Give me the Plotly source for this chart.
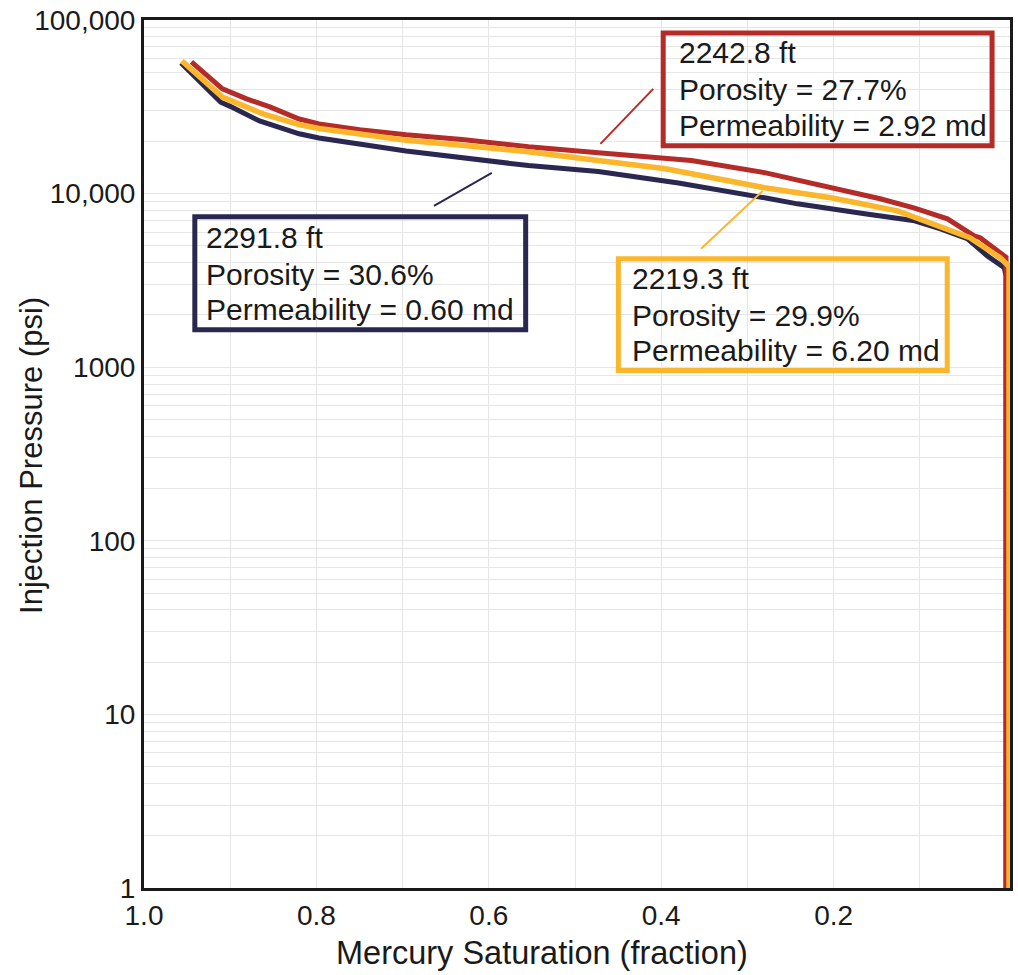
import plotly.graph_objects as go

# ---------------- data ----------------
sat_2291 = [0.957, 0.911, 0.900, 0.866, 0.820, 0.797, 0.696, 0.631, 0.554, 0.473, 0.380, 0.280,
            0.242, 0.164, 0.106, 0.076, 0.045, 0.022, 0.002, 0.0, 0.0]
p_2291 = [56600, 33600, 31800, 26200, 22100, 20900, 17600, 16100, 14500, 13400, 11500, 9460,
          8730, 7650, 6970, 6270, 5500, 4390, 3740, 3350, 1]

sat_2242 = [0.945, 0.909, 0.881, 0.854, 0.820, 0.797, 0.750, 0.696, 0.631, 0.554, 0.473, 0.365,
            0.280, 0.203, 0.146, 0.107, 0.068, 0.037, 0.030, 0.0, 0.0]
p_2242 = [57300, 40100, 35100, 31600, 26900, 25200, 23300, 21800, 20500, 18600, 17200, 15500,
          13200, 10800, 9340, 8280, 7160, 5710, 5570, 4300, 1]

sat_2219 = [0.956, 0.909, 0.862, 0.820, 0.797, 0.696, 0.631, 0.554, 0.473, 0.395, 0.280, 0.203,
            0.126, 0.088, 0.042, 0.007, -0.0035, -0.0035]
p_2219 = [58100, 36000, 28800, 25000, 23700, 20300, 19000, 17400, 15500, 13900, 10800, 9460,
          7960, 6790, 5570, 4280, 3800, 1]

depths = ["2242.8 ft", "2291.8 ft", "2219.3 ft"]
porosity = ["27.7%", "30.6%", "29.9%"]
permeability = ["2.92 md", "0.60 md", "6.20 md"]

x_tickvals = [1.0, 0.9, 0.8, 0.7, 0.6, 0.5, 0.4, 0.3, 0.2, 0.1]
x_ticktext = ["1.0", "", "0.8", "", "0.6", "", "0.4", "", "0.2", ""]
y_tickvals = [m * 10 ** k for k in range(5) for m in range(1, 10)] + [100000]
y_major = {1: "1", 10: "10", 100: "100", 1000: "1000", 10000: "10,000", 100000: "100,000"}
y_ticktext = [y_major.get(v, "") for v in y_tickvals]

# ---------------- style ----------------
NAVY = "#2a2850"
RED = "#b52b27"
YELLOW = "#fbb62c"
FONT = "Liberation Sans, Arial, sans-serif"

W, H = 1018, 975
L, R, T, B = 144, 5, 19, 87
PW, PH = W - L - R, H - T - B


def px(x):
    return (x - L) / PW


def py(y):
    return (H - B - y) / PH


fig = go.Figure()
fig.add_trace(go.Scatter(x=sat_2291, y=p_2291, mode="lines", line=dict(color=NAVY, width=5),
                         name=depths[1], showlegend=False))
fig.add_trace(go.Scatter(x=sat_2242, y=p_2242, mode="lines", line=dict(color=RED, width=5),
                         name=depths[0], showlegend=False))
fig.add_trace(go.Scatter(x=sat_2219, y=p_2219, mode="lines", line=dict(color=YELLOW, width=5.5),
                         name=depths[2], showlegend=False))

shapes = []
annotations = []

boxes = [
    # color, box (x0,y0,x1,y1) px, text left px, line centers px, leader line px, idx
    (RED, (665, 32, 995, 145), 679, (52, 89, 125), (602, 143, 655, 88), 0),
    (NAVY, (195, 216, 527, 329), 204, (237, 274, 309), (435, 205, 493, 172), 1),
    (YELLOW, (620, 258, 950, 370), 632, (278, 315, 350), (703, 248, 765, 190), 2),
]
for color, (x0, y0, x1, y1), tx, centers, (lx0, ly0, lx1, ly1), i in boxes:
    shapes.append(dict(type="rect", xref="paper", yref="paper",
                       x0=px(x0), x1=px(x1), y0=py(y0), y1=py(y1),
                       line=dict(color=color, width=5), fillcolor="rgba(255,255,255,0)"))
    shapes.append(dict(type="line", xref="paper", yref="paper",
                       x0=px(lx0), x1=px(lx1), y0=py(ly0), y1=py(ly1),
                       line=dict(color=color, width=2)))
    lines = [depths[i], "Porosity = " + porosity[i], "Permeability = " + permeability[i]]
    for t, cy in zip(lines, centers):
        annotations.append(dict(text=t, xref="paper", yref="paper", x=px(tx), y=py(cy),
                                xanchor="left", yanchor="middle", showarrow=False,
                                font=dict(family=FONT, size=30, color="#1a1a1a")))

annotations.append(dict(text="Mercury Saturation (fraction)", xref="paper", yref="paper",
                        x=px(543), y=py(953), xanchor="center", yanchor="middle",
                        showarrow=False, font=dict(family=FONT, size=32.5, color="#1a1a1a")))
annotations.append(dict(text="Injection Pressure (psi)", xref="paper", yref="paper",
                        x=px(31), y=py(455), xanchor="center", yanchor="middle", textangle=-90,
                        showarrow=False, font=dict(family=FONT, size=31, color="#1a1a1a")))

fig.update_layout(
    width=W, height=H,
    margin=dict(l=L, r=R, t=T, b=B, pad=0),
    paper_bgcolor="white", plot_bgcolor="white",
    shapes=shapes, annotations=annotations,
    font=dict(family=FONT, size=28, color="#1a1a1a"),
    xaxis=dict(range=[1.0, -0.0046], tickvals=x_tickvals, ticktext=x_ticktext,
               showgrid=True, gridcolor="#e6e6e6", gridwidth=1, zeroline=False,
               showline=True, linecolor="#1a1a1a", linewidth=3, mirror=True, ticks="",
               tickfont=dict(size=28)),
    yaxis=dict(type="log", range=[0, 5], tickvals=y_tickvals, ticktext=y_ticktext,
               showgrid=True, gridcolor="#e6e6e6", gridwidth=1, zeroline=False,
               showline=True, linecolor="#1a1a1a", linewidth=3, mirror=True, ticks="",
               tickfont=dict(size=28)),
)

fig.write_html("out.html")
